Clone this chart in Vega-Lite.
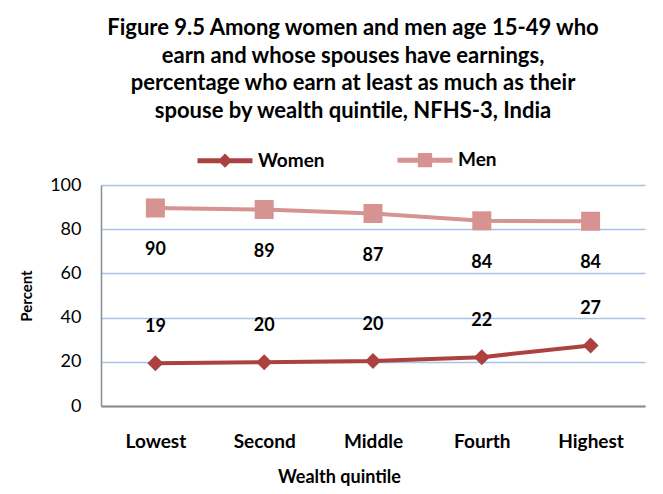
{
  "$schema": "https://vega.github.io/schema/vega-lite/v6.json",
  "width": 544,
  "height": 221,
  "autosize": {"type": "none"},
  "padding": {"left": 101, "top": 185, "right": 18, "bottom": 88},
  "background": "white",
  "title": {
    "text": ["Figure 9.5 Among women and men age 15-49 who", "earn and whose spouses have earnings,", "percentage who earn at least as much as their", "spouse by wealth quintile, NFHS-3, India"],
    "font": "Lato",
    "fontSize": 22,
    "fontWeight": "bold",
    "color": "black",
    "anchor": "middle",
    "frame": "group",
    "dx": -20,
    "offset": 7,
    "lineHeight": 27.7
  },
  "config": {"view": {"stroke": null}, "font": "Lato"},
  "data": {
    "values": [
      {"quintile": "Lowest", "series": "Women", "value": 19.4},
      {"quintile": "Second", "series": "Women", "value": 19.8},
      {"quintile": "Middle", "series": "Women", "value": 20.4},
      {"quintile": "Fourth", "series": "Women", "value": 22.1},
      {"quintile": "Highest", "series": "Women", "value": 27.4},
      {"quintile": "Lowest", "series": "Men", "value": 89.6},
      {"quintile": "Second", "series": "Men", "value": 88.9},
      {"quintile": "Middle", "series": "Men", "value": 87.1},
      {"quintile": "Fourth", "series": "Men", "value": 83.8},
      {"quintile": "Highest", "series": "Men", "value": 83.6}
    ]
  },
  "encoding": {
    "x": {
      "field": "quintile",
      "type": "nominal",
      "sort": ["Lowest", "Second", "Middle", "Fourth", "Highest"],
      "axis": {
        "title": "Wealth quintile",
        "titleFontSize": 18,
        "titleFontWeight": "bold",
        "titleColor": "black",
        "titlePadding": 17,
        "titleX": 238,
        "labelAngle": 0,
        "labelFontSize": 19,
        "labelFontWeight": "bold",
        "labelColor": "black",
        "labelPadding": 26,
        "ticks": false,
        "domainColor": "#8c8c8c",
        "domainWidth": 2,
        "grid": false
      }
    },
    "y": {
      "field": "value",
      "type": "quantitative",
      "scale": {"domain": [0, 100], "nice": false},
      "axis": {
        "title": "Percent",
        "titleFontSize": 15,
        "titleFontWeight": "bold",
        "titleColor": "black",
        "titlePadding": 15,
        "values": [0, 20, 40, 60, 80, 100],
        "labelFontSize": 18,
        "labelColor": "black",
        "labelPadding": 20,
        "ticks": false,
        "grid": true,
        "gridColor": "#A9C1E3",
        "gridWidth": 1.5,
        "domainColor": "#8c8c8c",
        "domainWidth": 1.5
      }
    },
    "color": {
      "field": "series",
      "type": "nominal",
      "scale": {"domain": ["Women", "Men"], "range": ["#AB4240", "#D69391"]},
      "legend": {
        "title": null,
        "orient": "none",
        "direction": "horizontal",
        "legendX": 94,
        "legendY": -55,
        "symbolSize": 3025,
        "symbolStrokeWidth": 5,
        "labelFontSize": 19,
        "labelFontWeight": "bold",
        "labelColor": "black",
        "labelOffset": 3,
        "columnPadding": 62,
        "encode": {"symbols": {"update": {"stroke": {"scale": "color", "field": "value"}, "strokeWidth": {"value": 5}}}}
      }
    }
  },
  "layer": [
    {"mark": {"type": "line", "strokeWidth": 4}},
    {
      "transform": [{"filter": "datum.series == 'Women'"}],
      "mark": {"type": "point", "shape": "diamond", "size": 256, "filled": true, "opacity": 1}
    },
    {
      "transform": [{"filter": "datum.series == 'Men'"}],
      "mark": {"type": "point", "shape": "square", "size": 361, "filled": true, "opacity": 1}
    },
    {
      "transform": [{"filter": "datum.series == 'Men'"}],
      "mark": {"type": "text", "dy": 42, "fontSize": 18, "fontWeight": "bold", "color": "black"},
      "encoding": {"text": {"field": "value", "type": "quantitative", "format": ".0f"}, "color": {"value": "black"}}
    },
    {
      "transform": [{"filter": "datum.series == 'Women'"}],
      "mark": {"type": "text", "dy": -36, "fontSize": 18, "fontWeight": "bold", "color": "black"},
      "encoding": {"text": {"field": "value", "type": "quantitative", "format": ".0f"}, "color": {"value": "black"}}
    },
    {
      "transform": [{"filter": "datum.series == 'none'"}],
      "mark": {"type": "point", "filled": true, "opacity": 1},
      "encoding": {
        "shape": {
          "field": "series",
          "type": "nominal",
          "scale": {"domain": ["Women", "Men"], "range": ["M-1,0L1,0M0,-0.13L0.13,0L0,0.13L-0.13,0Z", "M-1,0L1,0M-0.17,-0.17L0.17,-0.17L0.17,0.17L-0.17,0.17Z"]}
        }
      }
    }
  ]
}
